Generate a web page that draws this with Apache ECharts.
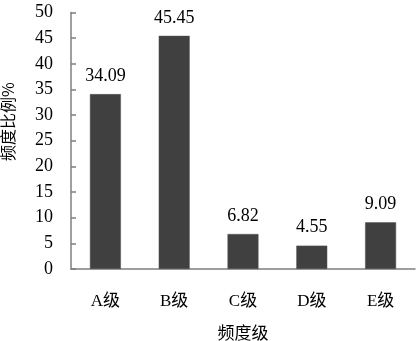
<!DOCTYPE html>
<html><head><meta charset="utf-8">
<script src="https://cdn.jsdelivr.net/npm/echarts@6/dist/echarts.min.js"></script>
<style>html,body{margin:0;padding:0;background:#fff}#c{width:419px;height:341px}</style>
</head><body><div id="c"></div>
<script>
const categories = ['A级','B级','C级','D级','E级'];
const values = [34.09, 45.45, 6.82, 4.55, 9.09];
const yTicks = [0,5,10,15,20,25,30,35,40,45,50];
const FONT = '"Liberation Serif","Times New Roman","Noto Sans CJK SC",serif';
const chart = echarts.init(document.getElementById('c'), null, {renderer:'canvas'});
chart.setOption({
  animation:false,
  grid:{left:71,right:4,top:12.5,bottom:72,containLabel:false,outerBoundsMode:'none'},
  xAxis:{
    type:'category', data:categories,
    name:'频度级', nameLocation:'middle', nameGap:55,
    nameTextStyle:{fontFamily:'"Noto Sans CJK SC",sans-serif',fontSize:17,color:'#000'},
    axisLine:{lineStyle:{color:'#7f7f7f',width:1.5}},
    axisTick:{show:false},
    axisLabel:{fontFamily:FONT,fontSize:17,color:'#000',margin:24}
  },
  yAxis:{
    type:'value', min:yTicks[0], max:yTicks[yTicks.length-1], interval:5,
    name:'频度比例%', nameLocation:'middle', nameGap:55, nameRotate:90,
    nameTextStyle:{fontFamily:'"Noto Sans CJK SC",sans-serif',fontSize:16,color:'#000',padding:[0,0,0,38]},
    axisLine:{show:true,lineStyle:{color:'#7f7f7f',width:1.5}},
    axisTick:{show:true,inside:true,length:5,lineStyle:{color:'#7f7f7f',width:1.5}},
    splitLine:{show:false},
    axisLabel:{fontFamily:FONT,fontSize:18,color:'#000',margin:18}
  },
  series:[{
    type:'bar', data:values, barWidth:'45%',
    itemStyle:{color:'#404040',borderColor:'#555',borderWidth:0.5},
    label:{show:true,position:'top',distance:9,fontFamily:FONT,fontSize:18,color:'#000',
      formatter:p=>p.value.toFixed(2)}
  }]
});
</script></body></html>
